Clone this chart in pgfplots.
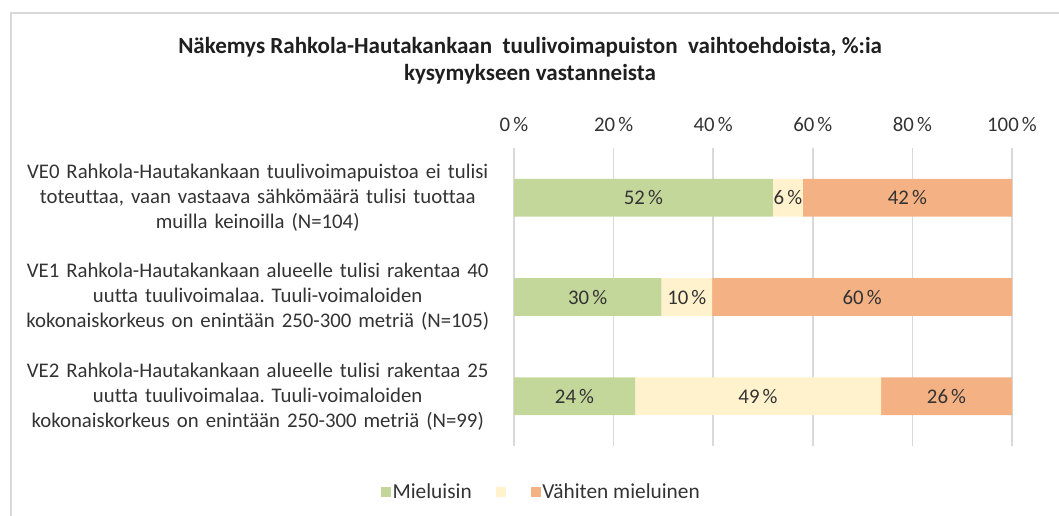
\documentclass[border=0pt]{standalone}
\usepackage{pgfplots}
\pgfplotsset{compat=1.18}
\usepackage{pgfplotstable}
\usepackage{fontspec}
\setmainfont{Carlito}[Ligatures=NoCommon]
\definecolor{cgreen}{HTML}{C4D79B}
\definecolor{cyellow}{HTML}{FFF2CC}
\definecolor{corange}{HTML}{F4B183}
\definecolor{cgrid}{HTML}{D9D9D9}
\definecolor{ctext}{HTML}{333333}
\frenchspacing

\pgfplotstableread{
y a b c
0 52 6 42
1 29.6 10.2 60.2
2 24.3 49.4 26.3
}\datatable

\newcommand{\lblfont}{\fontsize{15.6}{18.75}\selectfont}
\newcommand{\legfont}{\fontsize{16}{18.75}\selectfont}
\pgfplotsset{
  myaxis/.style={at={(385.5pt,-334.5pt)}, anchor=south west, scale only axis,
    width=373.5pt, height=223.5pt, xmin=0, xmax=100, ymin=-0.5, ymax=2.5, y dir=reverse,
    /pgf/number format/assume math mode=true},
  mylegend/.style={legend image code/.code={\fill[##1] (0pt,-3.75pt) rectangle (7.5pt,3.75pt);}}
}

\begin{document}
\begin{tikzpicture}
\useasboundingbox (0,0) rectangle (794.25pt,-387pt);
\draw[cgrid, line width=1.1pt] (8.25pt,-392pt) -- (8.25pt,-9.75pt) -- (800pt,-9.75pt);
\node[align=center, font=\fontsize{17.3}{20.25}\selectfont\bfseries, text=black!88] at (397.5pt,-45.4pt)
  {Näkemys Rahkola-Hautakankaan\ \ tuulivoimapuiston\ \ vaihtoehdoista, \%:ia\\kysymykseen vastanneista};

\begin{axis}[myaxis,
  xbar stacked, bar width=0.38,
  mylegend,
  ytick={0,1,2},
  yticklabels={
    {VE0 Rahkola-Hautakankaan tuulivoimapuistoa ei tulisi\\toteuttaa, vaan vastaava sähkömäärä tulisi tuottaa\\muilla keinoilla (N=104)},
    {VE1 Rahkola-Hautakankaan alueelle tulisi rakentaa 40\\uutta tuulivoimalaa. Tuuli-voimaloiden\\kokonaiskorkeus on enintään 250-300 metriä (N=105)},
    {VE2 Rahkola-Hautakankaan alueelle tulisi rakentaa 25\\uutta tuulivoimalaa. Tuuli-voimaloiden\\kokonaiskorkeus on enintään 250-300 metriä (N=99)}},
  xtick={0,20,...,100},
  xticklabel pos=upper,
  xticklabel={\pgfmathprintnumber{\tick}\hspace{0.15em}\%},
  xmajorgrids, grid style={cgrid, line width=1.1pt},
  axis line style={draw=none},
  major tick length=0pt,
  tick label style={font=\lblfont, text=ctext},
  yticklabel style={align=center, text width=360pt, inner sep=0pt, xshift=-12pt},
  xticklabel style={yshift=9pt},
  legend style={at={(rel axis cs:0.056,-0.154)}, anchor=center, draw=none, fill=none,
    font=\legfont, text=ctext, legend columns=3,
    /tikz/every even column/.append style={column sep=16pt},
    /tikz/every odd column/.append style={column sep=-1pt}},
  legend cell align=left,
]
\addplot[fill=cgreen, draw=none, mylegend] table[x=a, y=y]{\datatable};
\addlegendentry{Mieluisin}
\addplot[fill=cyellow, draw=none, mylegend] table[x=b, y=y]{\datatable};
\addlegendentry{}
\addplot[fill=corange, draw=none, mylegend] table[x=c, y=y]{\datatable};
\addlegendentry{Vähiten mieluinen}
\end{axis}

\begin{axis}[myaxis, hide axis,
  point meta=explicit,
  nodes near coords={\pgfmathprintnumber[fixed,precision=0]{\pgfplotspointmeta}\hspace{0.15em}\%},
  nodes near coords style={anchor=center, font=\lblfont, text=ctext},
]
\addplot[draw=none, mark=none] table[x expr=\thisrow{a}/2, y=y, meta=a]{\datatable};
\addplot[draw=none, mark=none] table[x expr=\thisrow{a}+\thisrow{b}/2, y=y, meta=b]{\datatable};
\addplot[draw=none, mark=none] table[x expr=\thisrow{a}+\thisrow{b}+\thisrow{c}/2, y=y, meta=c]{\datatable};
\end{axis}
\end{tikzpicture}
\end{document}
